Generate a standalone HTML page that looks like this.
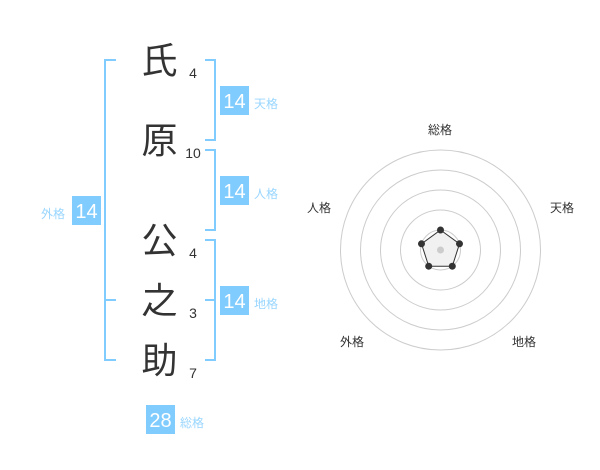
<!DOCTYPE html>
<html><head><meta charset="utf-8">
<style>
html,body{margin:0;padding:0;background:#fff}
#c{position:relative;width:600px;height:470px;overflow:hidden;font-family:"Liberation Sans","Noto Sans CJK JP",sans-serif}
.k{position:absolute;left:139.5px;width:40px;height:40px;line-height:40px;font-size:36px;text-align:center;color:#333;font-family:"WenQuanYi Zen Hei","Noto Sans CJK JP",sans-serif}
.n{position:absolute;width:30px;text-align:center;font-size:14px;line-height:16px;color:#333}
.b{position:absolute;width:29px;height:29px;line-height:32px;background:#80ccff;color:#fff;font-size:20px;text-align:center}
.l{position:absolute;font-size:12px;line-height:14px;color:#99d6ff;white-space:nowrap}
.r{position:absolute;font-size:12px;line-height:14px;color:#333;white-space:nowrap}
.s{position:absolute;background:#80ccff}
</style></head><body><div id="c">
<div class="k" style="top:38px">氏</div>
<div class="k" style="top:118px">原</div>
<div class="k" style="top:218px">公</div>
<div class="k" style="top:278px">之</div>
<div class="k" style="top:338px">助</div>
<div class="n" style="left:178px;top:65px">4</div>
<div class="n" style="left:178px;top:145px">10</div>
<div class="n" style="left:178px;top:245px">4</div>
<div class="n" style="left:178px;top:305px">3</div>
<div class="n" style="left:178px;top:365px">7</div>

<div class="s" style="left:104px;top:59px;width:2px;height:302px"></div>
<div class="s" style="left:104px;top:59px;width:12px;height:2px"></div>
<div class="s" style="left:104px;top:299px;width:12px;height:2px"></div>
<div class="s" style="left:104px;top:359px;width:12px;height:2px"></div>

<div class="s" style="left:214px;top:59px;width:2px;height:82px"></div>
<div class="s" style="left:205px;top:59px;width:11px;height:2px"></div>
<div class="s" style="left:205px;top:139px;width:11px;height:2px"></div>

<div class="s" style="left:214px;top:149px;width:2px;height:82px"></div>
<div class="s" style="left:205px;top:149px;width:11px;height:2px"></div>
<div class="s" style="left:205px;top:229px;width:11px;height:2px"></div>

<div class="s" style="left:214px;top:239px;width:2px;height:122px"></div>
<div class="s" style="left:205px;top:239px;width:11px;height:2px"></div>
<div class="s" style="left:205px;top:299px;width:11px;height:2px"></div>
<div class="s" style="left:205px;top:359px;width:11px;height:2px"></div>

<div class="b" style="left:220px;top:86px">14</div>
<div class="l" style="left:254px;top:97px">天格</div>
<div class="b" style="left:220px;top:176px">14</div>
<div class="l" style="left:254px;top:187px">人格</div>
<div class="b" style="left:220px;top:286px">14</div>
<div class="l" style="left:254px;top:297px">地格</div>
<div class="b" style="left:72px;top:196px">14</div>
<div class="l" style="left:41px;top:207px">外格</div>
<div class="b" style="left:146px;top:405px">28</div>
<div class="l" style="left:180px;top:416px">総格</div>

<svg style="position:absolute;left:0;top:0" width="600" height="470" viewBox="0 0 600 470">
<g fill="none" stroke="#ccc" stroke-width="1">
<circle cx="440.5" cy="250" r="20"/>
<circle cx="440.5" cy="250" r="40"/>
<circle cx="440.5" cy="250" r="60"/>
<circle cx="440.5" cy="250" r="80"/>
<circle cx="440.5" cy="250" r="100"/>
</g>
<polygon points="440.5,230 459.5,243.8 452.3,266.2 428.7,266.2 421.5,243.8" fill="#f1f1f1" stroke="#333" stroke-width="1"/>
<circle cx="440.5" cy="250" r="3.5" fill="#ccc"/>
<g fill="#333">
<circle cx="440.5" cy="230" r="3.5"/>
<circle cx="459.5" cy="243.8" r="3.5"/>
<circle cx="452.3" cy="266.2" r="3.5"/>
<circle cx="428.7" cy="266.2" r="3.5"/>
<circle cx="421.5" cy="243.8" r="3.5"/>
</g>
</svg>
<div class="r" style="left:428px;top:123px">総格</div>
<div class="r" style="left:550px;top:201px">天格</div>
<div class="r" style="left:512px;top:335px">地格</div>
<div class="r" style="left:340px;top:335px">外格</div>
<div class="r" style="left:307px;top:201px">人格</div>
</div></body></html>
